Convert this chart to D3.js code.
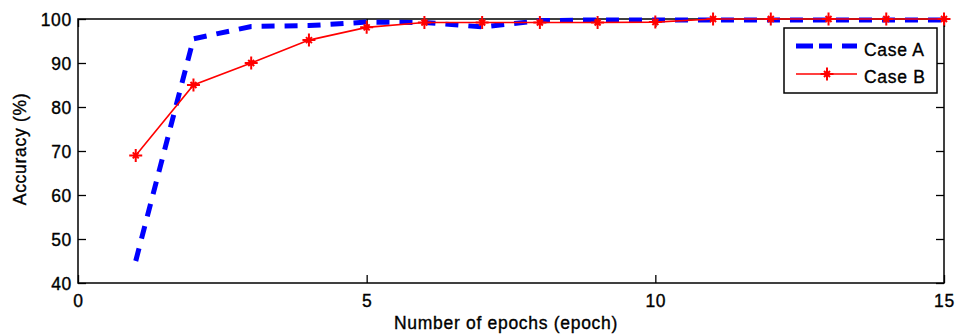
<!DOCTYPE html>
<html>
<head>
<meta charset="utf-8">
<script src="https://cdn.jsdelivr.net/npm/d3@7"></script>
<style>
  html, body { margin: 0; padding: 0; background: #fff; }
  svg text { font-family: "Liberation Sans", Arial, sans-serif; fill: #000; stroke: #000; stroke-width: 0.35px; }
</style>
</head>
<body>
<svg id="chart" width="958" height="336"></svg>
<script>
// ---- data ----
const epochs = [1, 2, 3, 4, 5, 6, 7, 8, 9, 10, 11, 12, 13, 14, 15];
const caseA = [45, 95.5, 98.3, 98.5, 99.3, 99.2, 98.2, 99.6, 99.8, 99.8, 99.8, 99.8, 99.8, 99.8, 99.8];
const caseB = [69, 85, 90, 95.2, 98.1, 99.2, 99.2, 99.2, 99.2, 99.3, 100, 100, 100, 100, 100];
const seriesNames = ["Case A", "Case B"];
const xTicks = [0, 5, 10, 15];
const yTicks = [40, 50, 60, 70, 80, 90, 100];
const xLabel = "Number of epochs (epoch)";
const yLabel = "Accuracy (%)";

// ---- layout ----
const svg = d3.select("#chart");
const L = 78, R = 944, T = 19, B = 283;
const x = d3.scaleLinear().domain([0, 15]).range([L, R]);
const y = d3.scaleLinear().domain([40, 100]).range([B, T]);
const tickLen = 8;
const fontSize = 17.5;
const ls = 0.7;

// axes (inward ticks, box)
const gx = svg.append("g").attr("transform", `translate(0,${B})`)
  .call(d3.axisBottom(x).tickValues(xTicks).tickSizeInner(-tickLen).tickSizeOuter(0).tickPadding(12));
const gxt = svg.append("g").attr("transform", `translate(0,${T})`)
  .call(d3.axisTop(x).tickValues(xTicks).tickSizeInner(-tickLen).tickSizeOuter(0).tickFormat(""));
const gy = svg.append("g").attr("transform", `translate(${L},0)`)
  .call(d3.axisLeft(y).tickValues(yTicks).tickSizeInner(-tickLen).tickSizeOuter(0).tickPadding(6));
const gyr = svg.append("g").attr("transform", `translate(${R},0)`)
  .call(d3.axisRight(y).tickValues(yTicks).tickSizeInner(-tickLen).tickSizeOuter(0).tickFormat(""));

[gx, gxt, gy, gyr].forEach(g => {
  g.select(".domain").remove();
  g.selectAll(".tick line").attr("stroke", "#000").attr("stroke-width", 1.3);
  g.selectAll("text").attr("font-size", fontSize).attr("letter-spacing", ls)
    .attr("font-family", "Liberation Sans, Arial, sans-serif").attr("fill", "#000");
});
gx.selectAll("text").attr("dy", "0.71em");
gy.selectAll("text").attr("dy", "0.36em");

svg.append("rect").attr("x", L).attr("y", T).attr("width", R - L).attr("height", B - T)
  .attr("fill", "none").attr("stroke", "#000").attr("stroke-width", 1.5);

// axis titles
svg.append("text").attr("x", (L + R) / 2 - 5).attr("y", 329)
  .attr("text-anchor", "middle").attr("font-size", fontSize).attr("letter-spacing", ls)
  .text(xLabel);
svg.append("text").attr("transform", `translate(26,${(T + B) / 2 - 2}) rotate(-90)`)
  .attr("text-anchor", "middle").attr("font-size", fontSize).attr("letter-spacing", ls)
  .text(yLabel);

// lines
const line = d3.line().x(d => x(d[0])).y(d => y(d[1]));
const dataA = epochs.map((e, i) => [e, caseA[i]]);
const dataB = epochs.map((e, i) => [e, caseB[i]]);

svg.append("path").datum(dataA).attr("d", line)
  .attr("fill", "none").attr("stroke", "#0000ff").attr("stroke-width", 5)
  .attr("stroke-dasharray", "13,10");

svg.append("path").datum(dataB).attr("d", line)
  .attr("fill", "none").attr("stroke", "#ff0000").attr("stroke-width", 1.6);

function starPath(cx, cy) {
  const r = 6.5, q = 3;
  return `M${cx - r},${cy}L${cx + r},${cy}M${cx},${cy - r}L${cx},${cy + r}` +
         `M${cx - q},${cy - q}L${cx + q},${cy + q}M${cx - q},${cy + q}L${cx + q},${cy - q}`;
}
svg.append("g").selectAll("path").data(dataB).join("path")
  .attr("d", d => starPath(x(d[0]), y(d[1])))
  .attr("fill", "none").attr("stroke", "#ff0000").attr("stroke-width", 2);

// legend
const lg = svg.append("g");
lg.append("rect").attr("x", 784).attr("y", 28).attr("width", 153).attr("height", 65)
  .attr("fill", "#fff").attr("stroke", "#000").attr("stroke-width", 1.5);
lg.append("line").attr("x1", 796).attr("x2", 857).attr("y1", 46).attr("y2", 46)
  .attr("stroke", "#0000ff").attr("stroke-width", 5).attr("stroke-dasharray", "17,6,13,10");
lg.append("line").attr("x1", 796).attr("x2", 857).attr("y1", 74).attr("y2", 74)
  .attr("stroke", "#ff0000").attr("stroke-width", 1.6);
lg.append("path").attr("d", starPath(827, 74))
  .attr("fill", "none").attr("stroke", "#ff0000").attr("stroke-width", 2);
lg.append("text").attr("x", 864).attr("y", 56).attr("font-size", fontSize).attr("letter-spacing", ls).text(seriesNames[0]);
lg.append("text").attr("x", 864).attr("y", 83).attr("font-size", fontSize).attr("letter-spacing", ls).text(seriesNames[1]);
</script>
</body>
</html>
